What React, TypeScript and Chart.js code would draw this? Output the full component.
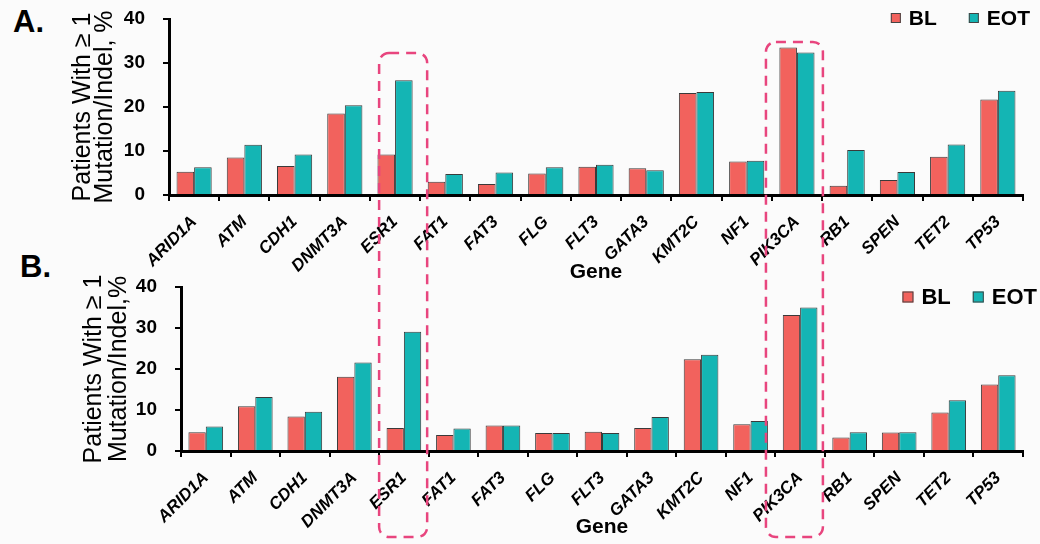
import React, { useEffect, useRef } from 'react';
import { Chart, registerables } from 'chart.js';

Chart.register(...registerables);

// ---------- data ----------
const genes = ['ARID1A', 'ATM', 'CDH1', 'DNMT3A', 'ESR1', 'FAT1', 'FAT3', 'FLG', 'FLT3', 'GATA3', 'KMT2C', 'NF1', 'PIK3CA', 'RB1', 'SPEN', 'TET2', 'TP53'];
const seriesNames = ['BL', 'EOT'];
const panelA_BL = [5.3, 8.5, 6.6, 18.5, 9.2, 3.0, 2.5, 4.9, 6.4, 6.1, 23.2, 7.6, 33.5, 2.1, 3.4, 8.7, 21.7];
const panelA_EOT = [6.3, 11.4, 9.2, 20.4, 26.1, 4.8, 5.1, 6.3, 6.9, 5.6, 23.4, 7.8, 32.4, 10.2, 5.2, 11.5, 23.7];
const panelB_BL = [4.6, 10.9, 8.4, 18.1, 5.6, 3.9, 6.2, 4.4, 4.7, 5.6, 22.4, 6.5, 33.2, 3.3, 4.5, 9.4, 16.2];
const panelB_EOT = [6.0, 13.2, 9.6, 21.6, 29.1, 5.5, 6.2, 4.4, 4.4, 8.3, 23.5, 7.3, 35.0, 4.6, 4.6, 12.4, 18.5];
const yTickValues = [0, 10, 20, 30, 40];
const yTitleA = ['Patients With \u2265 1', 'Mutation/Indel, %'];
const yTitleB = ['Patients With \u2265 1', 'Mutation/Indel,%'];
const xTitle = 'Gene';
const highlightGenes = ['ESR1', 'PIK3CA'];

// ---------- style ----------
const FONT = "Arial, 'Liberation Sans', Helvetica, sans-serif";
const BL_COLOR = '#F2625D';
const EOT_COLOR = '#14B5B4';
const BAR_BORDER = '#3a3a3a';
const DASH_COLOR = '#E8457E';
const W = 1040;

// box geometry in category units / value units (annotation styling)
const boxStyle: Record<string, { l: number; r: number; topVal: number }> = {
  ESR1: { l: -0.5, r: 0.47, topVal: 32.3 },
  PIK3CA: { l: -0.69, r: 0.46, topVal: 34.8 },
};

type Panel = {
  canvasTop: number; height: number; left: number; right: number; top: number; bottom: number;
  yTitle: string[]; yTitleSize: number; yTitleLH: number; yTitlePad: number; xTitlePad: number;
  legend: { dx: number; dy: number; gap: number; box: number; size: number };
};

const PANEL_A: Panel = {
  canvasTop: 0, height: 285, left: 169, right: 1023, top: 19, bottom: 195,
  yTitle: yTitleA, yTitleSize: 25, yTitleLH: 0.88, yTitlePad: 72, xTitlePad: 0,
  legend: { dx: 7, dy: -1, gap: 32, box: 10, size: 21 },
};
const PANEL_B: Panel = {
  canvasTop: 270, height: 274, left: 181, right: 1023, top: 17, bottom: 181,
  yTitle: yTitleB, yTitleSize: 25, yTitleLH: 1.0, yTitlePad: 82, xTitlePad: 4,
  legend: { dx: 14, dy: 10, gap: 22, box: 11, size: 22 },
};

const customLegend = {
  id: 'customLegend',
  afterDraw(chart: any, _args: any, opts: any) {
    const { ctx, chartArea } = chart;
    ctx.save();
    ctx.font = `bold ${opts.size}px ${FONT}`;
    ctx.textBaseline = 'middle';
    const items = chart.data.datasets.map((d: any) => ({ text: d.label, color: d.backgroundColor }));
    const box = opts.box;
    const tg = 8;
    const widths = items.map((it: any) => box + tg + ctx.measureText(it.text).width);
    const total = widths.reduce((a: number, b: number) => a + b, 0) + opts.gap * (items.length - 1);
    let x = chartArea.right + opts.dx - total;
    const y = chartArea.top + opts.dy;
    items.forEach((it: any, i: number) => {
      ctx.fillStyle = it.color;
      ctx.fillRect(x, y - box / 2, box, box);
      ctx.strokeStyle = '#444';
      ctx.lineWidth = 1;
      ctx.strokeRect(x + 0.5, y - box / 2 + 0.5, box - 1, box - 1);
      ctx.fillStyle = '#000';
      ctx.fillText(it.text, x + box + tg, y + 1);
      x += widths[i] + opts.gap;
    });
    ctx.restore();
  },
};

function makeConfig(p: Panel, bl: number[], eot: number[]): any {
  return {
    type: 'bar',
    data: {
      labels: genes,
      datasets: [
        { label: seriesNames[0], data: bl, backgroundColor: BL_COLOR, borderColor: BAR_BORDER, borderWidth: 1, barPercentage: 1.0, categoryPercentage: 0.7 },
        { label: seriesNames[1], data: eot, backgroundColor: EOT_COLOR, borderColor: BAR_BORDER, borderWidth: 1, barPercentage: 1.0, categoryPercentage: 0.7 },
      ],
    },
    options: {
      responsive: false,
      maintainAspectRatio: false,
      devicePixelRatio: 1,
      animation: false,
      layout: { padding: { left: 0, right: W - p.right, top: p.top, bottom: 0 } },
      plugins: {
        legend: { display: false },
        tooltip: { enabled: false },
        customLegend: p.legend,
      },
      scales: {
        x: {
          type: 'category',
          offset: true,
          grid: { display: true, drawOnChartArea: false, drawTicks: true, tickLength: 6, color: '#000', lineWidth: 2, offset: true },
          border: { display: true, color: '#000', width: 3 },
          ticks: {
            autoSkip: false, maxRotation: 45, minRotation: 45, padding: 11, color: '#000',
            font: { family: FONT, size: 17, weight: 'bold', style: 'italic' },
          },
          title: {
            display: true, text: xTitle, color: '#000',
            font: { family: FONT, size: 21, weight: 'bold', lineHeight: 1.2 },
            padding: { top: 0, bottom: p.xTitlePad },
          },
          afterFit: (s: any) => {
            s.height = p.height - p.bottom;
            s.paddingLeft = 0; s.paddingRight = 0;
          },
        },
        y: {
          min: 0, max: 40,
          afterBuildTicks: (s: any) => { s.ticks = yTickValues.map((v) => ({ value: v })); },
          ticks: { padding: 18, color: '#000', font: { family: FONT, size: 19, weight: 'bold' } },
          grid: { display: true, drawOnChartArea: false, tickLength: 6, color: '#000', lineWidth: 2 },
          border: { display: true, color: '#000', width: 3 },
          title: {
            display: true, text: p.yTitle, color: '#000',
            font: { family: FONT, size: p.yTitleSize, weight: 'normal', lineHeight: p.yTitleLH },
            padding: { top: p.yTitlePad, bottom: 0 },
          },
          afterFit: (s: any) => {
            s.width = p.left;
            s.paddingTop = 0; s.paddingBottom = 0;
          },
        },
      },
    },
    plugins: [customLegend],
  };
}

export default function App() {
  const refA = useRef<HTMLCanvasElement>(null);
  const refB = useRef<HTMLCanvasElement>(null);
  const refO = useRef<HTMLCanvasElement>(null);

  useEffect(() => {
    const chartA = new Chart(refA.current as HTMLCanvasElement, makeConfig(PANEL_A, panelA_BL, panelA_EOT));
    const chartB = new Chart(refB.current as HTMLCanvasElement, makeConfig(PANEL_B, panelB_BL, panelB_EOT));

    const ov = refO.current as HTMLCanvasElement;
    const ctx = ov.getContext('2d') as CanvasRenderingContext2D;
    ctx.clearRect(0, 0, ov.width, ov.height);
    const xs: any = chartB.scales.x;
    const yA: any = chartA.scales.y;
    const cw = xs.getPixelForValue(1) - xs.getPixelForValue(0);
    ctx.save();
    ctx.strokeStyle = DASH_COLOR;
    ctx.lineWidth = 2.5;
    ctx.setLineDash([10, 7]);
    highlightGenes.forEach((g) => {
      const st = boxStyle[g];
      const i = genes.indexOf(g);
      const cx = xs.getPixelForValue(i);
      const left = cx + st.l * cw;
      const right = cx + st.r * cw;
      const top = PANEL_A.canvasTop + yA.getPixelForValue(st.topVal);
      const bottom = PANEL_B.canvasTop + (chartB.chartArea as any).bottom + 86;
      ctx.beginPath();
      (ctx as any).roundRect(left, top, right - left, bottom - top, 10);
      ctx.stroke();
    });
    ctx.restore();

    return () => {
      chartA.destroy();
      chartB.destroy();
    };
  }, []);

  const labelStyle: React.CSSProperties = {
    position: 'absolute', fontFamily: FONT, fontWeight: 'bold', fontSize: 31, lineHeight: '31px', color: '#000',
  };

  return (
    <div style={{ position: 'absolute', left: 0, top: 0, width: W, height: 544, background: '#FBFBFB', overflow: 'hidden' }}>
      <div style={{ ...labelStyle, left: 13, top: 6 }}>A.</div>
      <div style={{ ...labelStyle, left: 20, top: 251 }}>B.</div>
      <canvas ref={refA} width={W} height={PANEL_A.height} style={{ position: 'absolute', left: 0, top: PANEL_A.canvasTop }} />
      <canvas ref={refB} width={W} height={PANEL_B.height} style={{ position: 'absolute', left: 0, top: PANEL_B.canvasTop }} />
      <canvas ref={refO} width={W} height={544} style={{ position: 'absolute', left: 0, top: 0, pointerEvents: 'none' }} />
    </div>
  );
}
